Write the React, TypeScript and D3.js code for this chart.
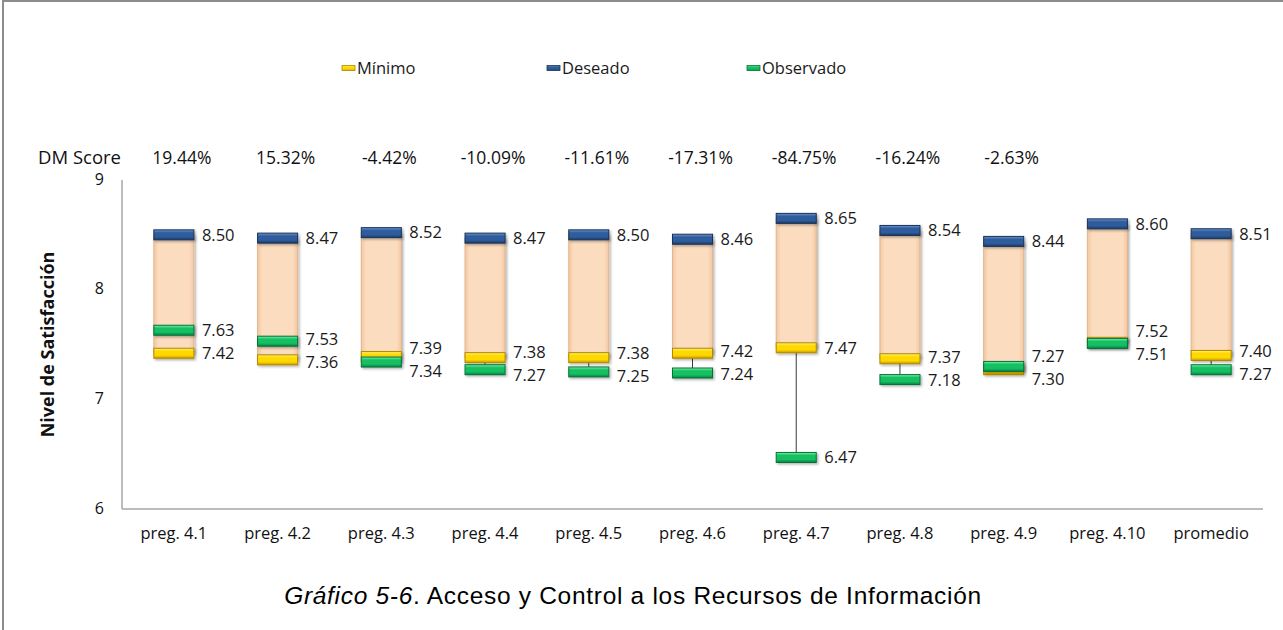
import { useMemo } from 'react'
import * as d3 from 'd3'

const categories = [
    'preg. 4.1',
    'preg. 4.2',
    'preg. 4.3',
    'preg. 4.4',
    'preg. 4.5',
    'preg. 4.6',
    'preg. 4.7',
    'preg. 4.8',
    'preg. 4.9',
    'preg. 4.10',
    'promedio'
]
const minimo = [7.42, 7.36, 7.39, 7.38, 7.38, 7.42, 7.47, 7.37, 7.27, 7.52, 7.4]
const deseado = [8.5, 8.47, 8.52, 8.47, 8.5, 8.46, 8.65, 8.54, 8.44, 8.6, 8.51]
const observado = [7.63, 7.53, 7.34, 7.27, 7.25, 7.24, 6.47, 7.18, 7.3, 7.51, 7.27]
const dmScore = ['19.44%', '15.32%', '-4.42%', '-10.09%', '-11.61%', '-17.31%', '-84.75%', '-16.24%', '-2.63%']
const yTicks = [6, 7, 8, 9]

const W = 1283
const H = 630
const m = { left: 122, right: 20, top: 180, bottom: 121 }
const FONT = "'Open Sans', 'Noto Sans', sans-serif"
const LABEL_GAP = 23

const capStyles = {
    min: { id: 'gMin', light: '#fff27a', base: '#ffd800', dark: '#c79a00', stroke: '#b08800' },
    des: { id: 'gDes', light: '#6f94cc', base: '#2f5c9c', dark: '#1c3a66', stroke: '#1a3357' },
    obs: { id: 'gObs', light: '#7ef0a8', base: '#12c062', dark: '#0a8040', stroke: '#07703a' }
}

const Cap = ({ cx, cy, w, h = 10, s }) => (
    <rect
        x={cx - w / 2}
        y={cy - h / 2}
        width={w}
        height={h}
        fill={`url(#${s.id})`}
        stroke={s.stroke}
        strokeWidth="1"
        filter="url(#shadow)"
    />
)

const LegendItem = ({ x, y, label, s }) => (
    <g transform={`translate(${x},${y})`}>
        <rect x={0} y={-2.5} width={13} height={5} fill={`url(#${s.id})`} stroke={s.stroke} strokeWidth="0.8" />
        <text x={15} y={0} dy="0.35em" fontSize="16.5" fill="#1a1a1a" fontFamily={FONT}>
            {label}
        </text>
    </g>
)

export default function App() {
    const x = useMemo(
        () => d3.scaleBand().domain(categories).range([m.left, W - m.right]).padding(0),
        []
    )
    const y = useMemo(
        () => d3.scaleLinear().domain([6, 9]).range([H - m.bottom, m.top]),
        []
    )
    const bw = x.bandwidth() * 0.386
    const x0 = m.left
    const y0 = H - m.bottom

    return (
        <svg width={W} height={H} style={{ position: 'absolute', left: 0, top: 0, background: '#fff' }}>
            <defs>
                {Object.values(capStyles).map((s) => (
                    <linearGradient key={s.id} id={s.id} x1="0" y1="0" x2="0" y2="1">
                        <stop offset="0" stopColor={s.light} />
                        <stop offset="0.3" stopColor={s.base} />
                        <stop offset="0.7" stopColor={s.base} />
                        <stop offset="1" stopColor={s.dark} />
                    </linearGradient>
                ))}
                <linearGradient id="peach" x1="0" y1="0" x2="1" y2="0">
                    <stop offset="0" stopColor="#f2c7a2" />
                    <stop offset="0.12" stopColor="#fcdcbf" />
                    <stop offset="0.88" stopColor="#fcdcbf" />
                    <stop offset="1" stopColor="#f2c7a2" />
                </linearGradient>
                <filter id="shadow" x="-20%" y="-20%" width="140%" height="160%">
                    <feDropShadow dx="1.5" dy="1.5" stdDeviation="1.2" floodColor="#000" floodOpacity="0.3" />
                </filter>
            </defs>

            {/* outer frame */}
            <line x1={2} x2={W} y1={1} y2={1} stroke="#8c8c8c" strokeWidth="2" />
            <line x1={3} x2={3} y1={0} y2={H} stroke="#8c8c8c" strokeWidth="2" />

            {/* legend */}
            <LegendItem x={342} y={68} label="Mínimo" s={capStyles.min} />
            <LegendItem x={547} y={68} label="Deseado" s={capStyles.des} />
            <LegendItem x={747} y={68} label="Observado" s={capStyles.obs} />

            {/* DM Score row */}
            <text x={121} y={158} dy="0.35em" textAnchor="end" fontSize="18.5" fill="#111" fontFamily={FONT}>
                DM Score
            </text>
            {dmScore.map((d, i) => (
                <text
                    key={i}
                    x={x(categories[i]) + x.bandwidth() / 2 + 8}
                    y={158}
                    dy="0.35em"
                    textAnchor="middle"
                    fontSize="17.5"
                    fill="#111"
                    fontFamily={FONT}
                >
                    {d}
                </text>
            ))}

            {/* axes */}
            <line x1={x0} x2={x0} y1={m.top} y2={y0} stroke="#a6a6a6" strokeWidth="1.5" />
            <line x1={x0} x2={W - m.right} y1={y0} y2={y0} stroke="#a6a6a6" strokeWidth="1.5" />
            {yTicks.map((t) => (
                <text key={t} x={104} y={y(t) - 1} dy="0.35em" textAnchor="end" fontSize="16" fill="#111" fontFamily={FONT}>
                    {t}
                </text>
            ))}
            {categories.map((c) => (
                <text
                    key={c}
                    x={x(c) + x.bandwidth() / 2}
                    y={533}
                    dy="0.35em"
                    textAnchor="middle"
                    fontSize="16.5"
                    fill="#111"
                    fontFamily={FONT}
                >
                    {c}
                </text>
            ))}
            <text
                transform={`translate(48,${(m.top + y0) / 2}) rotate(-90)`}
                dy="0.35em"
                textAnchor="middle"
                fontSize="18"
                fontWeight="bold"
                fill="#111"
                fontFamily={FONT}
            >
                Nivel de Satisfacción
            </text>

            {/* floating bars */}
            {categories.map((c, i) => {
                const cx = x(c) + x.bandwidth() / 2
                const lo = Math.min(minimo[i], deseado[i], observado[i])
                const hi = Math.max(minimo[i], deseado[i], observado[i])
                const yMin = y(minimo[i])
                const yDes = y(deseado[i])
                const yObs = y(observado[i])
                // spread the two lower labels apart when they collide
                let lMin = yMin
                let lObs = yObs
                if (Math.abs(yObs - yMin) < LABEL_GAP) {
                    const mid = (yMin + yObs) / 2
                    const obsOnTop = observado[i] > minimo[i] + 0.05
                    lMin = mid + (obsOnTop ? 1 : -1) * LABEL_GAP / 2
                    lObs = mid + (obsOnTop ? -1 : 1) * LABEL_GAP / 2
                }
                const lx = cx + bw / 2 + 8
                return (
                    <g key={c}>
                        <line x1={cx} x2={cx} y1={y(hi)} y2={y(lo)} stroke="#3a3a3a" strokeWidth="1" />
                        <rect
                            x={cx - bw / 2}
                            y={yDes}
                            width={bw}
                            height={yMin - yDes}
                            fill="url(#peach)"
                            stroke="#e2b68f"
                            strokeWidth="1"
                            filter="url(#shadow)"
                        />
                        <Cap cx={cx} cy={yDes} w={bw} s={capStyles.des} />
                        <Cap cx={cx} cy={yMin} w={bw} s={capStyles.min} />
                        <Cap cx={cx} cy={yObs} w={bw} s={capStyles.obs} />
                        <text x={lx} y={yDes} dy="0.35em" fontSize="16.5" fill="#1a1a1a" fontFamily={FONT}>
                            {deseado[i].toFixed(2)}
                        </text>
                        <text x={lx} y={lMin} dy="0.35em" fontSize="16.5" fill="#1a1a1a" fontFamily={FONT}>
                            {minimo[i].toFixed(2)}
                        </text>
                        <text x={lx} y={lObs} dy="0.35em" fontSize="16.5" fill="#1a1a1a" fontFamily={FONT}>
                            {observado[i].toFixed(2)}
                        </text>
                    </g>
                )
            })}

            {/* caption */}
            <text
                x={633}
                y={595}
                dy="0.35em"
                textAnchor="middle"
                fontSize="24.5"
                letterSpacing="0.7"
                fill="#000"
                fontFamily="'Liberation Sans', Arial, sans-serif"
            >
                <tspan fontStyle="italic">Gráfico 5-6</tspan>. Acceso y Control a los Recursos de Información
            </text>
        </svg>
    )
}
